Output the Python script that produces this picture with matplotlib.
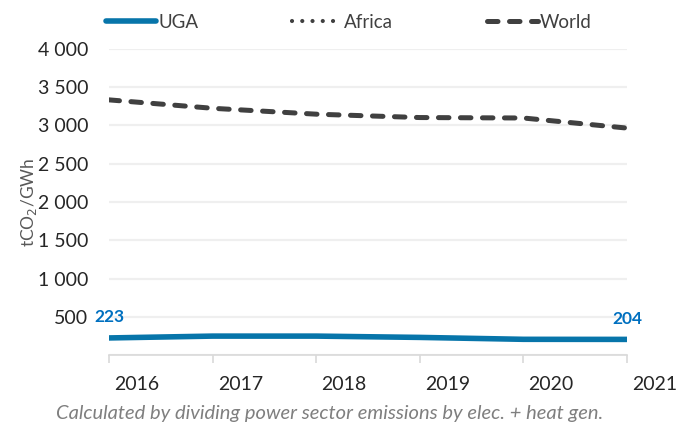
import numpy as np
import matplotlib
matplotlib.use("Agg")
import matplotlib.pyplot as plt

# Data
years = ["2016", "2017", "2018", "2019", "2020", "2021"]
uga = [223, 247, 247, 230, 205, 204]
africa = [np.nan] * 6   # shown in legend only, no visible values
world = [3335, 3225, 3148, 3104, 3098, 2966]
y_ticks = [0, 500, 1000, 1500, 2000, 2500, 3000, 3500, 4000]

plt.rcParams['font.family'] = ['Lato', 'DejaVu Sans']

blue = '#0775AA'
label_blue = '#0070C0'
dark = '#404040'
grid_c = '#EFEFEF'
axis_c = '#D9D9D9'
text_c = '#262626'

fig = plt.figure(figsize=(6.97, 4.23), dpi=100)
ax = fig.add_axes([109 / 697, 1 - 355 / 423, 518 / 697, 306 / 423])

x = np.arange(len(years))
l_uga, = ax.plot(x, uga, color=blue, lw=4, solid_capstyle='round', label='UGA', zorder=3)
l_afr, = ax.plot(x, africa, color=dark, lw=3.0, linestyle=(0, (0.01, 2.45)),
                 dash_capstyle='round', label='Africa', zorder=3)
l_wld, = ax.plot(x, world, color=dark, lw=3.6, linestyle=(0, (2.1, 2.3)),
                 dash_capstyle='round', label='World', zorder=3)

# end labels for UGA
for i in (0, len(years) - 1):
    ax.annotate(f"{uga[i]}", (x[i], uga[i]), xytext=(0, 9), textcoords='offset points',
                ha='center', va='bottom', color=label_blue, fontsize=12.5, fontweight='bold')

ax.set_xlim(0, len(years) - 1)
ax.set_ylim(0, 4000)
ax.set_yticks(y_ticks)
ax.set_yticklabels([f"{v:,}".replace(",", " ") if v > 0 else "" for v in y_ticks])
ax.yaxis.grid(True, color=grid_c, lw=1.6)
ax.set_axisbelow(True)

# year labels sit to the right of each tick, as in the original
ax.set_xticks(x)
ax.set_xticklabels([])
for xi, yr in zip(x, years):
    ax.annotate(yr, (xi, 0), xycoords=('data', 'axes fraction'), xytext=(20, -15),
                textcoords='offset points', ha='center', va='top',
                fontsize=14, color=text_c, annotation_clip=False)

for s in ['top', 'right', 'left']:
    ax.spines[s].set_visible(False)
ax.spines['bottom'].set_color(axis_c)
ax.spines['bottom'].set_linewidth(1.2)

ax.tick_params(axis='y', length=0, pad=15, labelsize=14, labelcolor=text_c)
ax.tick_params(axis='x', length=5.5, width=1.2, color=axis_c, direction='out')

ax.set_ylabel("tCO$_2$/GWh", fontsize=12.5, color='#595959')
ax.yaxis.set_label_coords(-0.135, 0.5)

fig.legend(handles=[l_uga, l_afr, l_wld], loc='center', bbox_to_anchor=(0.5, 1 - 22 / 423),
           ncol=3, frameon=False, fontsize=13.5, handlelength=2.7, handletextpad=0.1,
           columnspacing=5.0, labelcolor=dark)

fig.text(330 / 697, 1 - 413 / 423,
         "Calculated by dividing power sector emissions by elec. + heat gen.",
         ha='center', va='center', fontsize=14.5, style='italic', color='#7F7F7F')

fig.savefig("out.png", dpi=100)
